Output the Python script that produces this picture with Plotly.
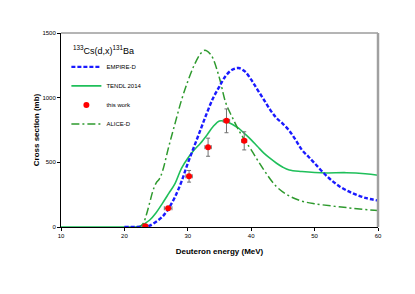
import plotly.graph_objects as go

# EMPIRE-D
emp_x = [20, 22, 23, 23.5, 24, 25, 26, 27, 28, 29, 30, 31, 32, 33, 34, 35, 36, 37, 38, 39, 40, 41, 42, 43, 44, 45, 46, 47, 48, 49, 50, 52, 54, 56, 58, 60]
emp_y = [0, 0, 0, 2, 10, 41, 80, 145, 235, 351, 493, 622, 751, 880, 997, 1087, 1170, 1216, 1229, 1203, 1139, 1061, 984, 906, 842, 798, 745, 674, 596, 545, 493, 390, 312, 261, 225, 205]

# TENDL 2014
ten_x = [10, 20, 21.5, 22.5, 23, 24, 25, 26, 27, 28, 29, 30, 31, 32, 33, 34, 35, 36, 37, 38, 39, 40, 41, 42, 43, 44, 45, 46, 48, 50, 52, 55, 58, 60]
ten_y = [0, 0, 0, 5, 20, 54, 110, 183, 260, 338, 454, 532, 595, 648, 710, 777, 820, 816, 795, 764, 720, 674, 622, 571, 530, 493, 462, 441, 429, 421, 418, 420, 412, 400]

# ALICE-D
ali_x = [22, 22.5, 23, 23.5, 24, 24.5, 25, 25.5, 26, 27, 28, 29, 30, 31, 32, 32.7, 33.5, 34, 35, 36, 37, 38, 39, 40, 42, 44, 46, 48, 50, 55, 60]
ali_y = [0, 5, 30, 100, 190, 280, 340, 370, 430, 622, 803, 980, 1126, 1250, 1340, 1366, 1340, 1300, 1150, 958, 850, 751, 670, 596, 441, 312, 240, 200, 180, 150, 127]

# This work
exp_x = [23.3, 26.9, 30.2, 33.2, 36.1, 38.9]
exp_y = [5, 145, 392, 617, 821, 666]
exp_dy = [5, 12, 45, 70, 92, 70]
exp_dx = [0.4, 0.6, 0.5, 0.5, 0.5, 0.4]

fig = go.Figure()
fig.add_trace(go.Scatter(x=ten_x, y=ten_y, mode="lines", name="TENDL 2014",
                         line=dict(color="#1fbf5a", width=1.6, shape="spline"),
                         legendrank=2))
fig.add_trace(go.Scatter(x=ali_x, y=ali_y, mode="lines", name="ALICE-D",
                         line=dict(color="#2e9a2e", width=1.5, dash="8px,3px,2px,3px", shape="spline"),
                         legendrank=4))
fig.add_trace(go.Scatter(x=emp_x, y=emp_y, mode="lines", name="EMPIRE-D",
                         line=dict(color="#1a1aff", width=2.4, dash="4px,2px", shape="spline"),
                         legendrank=1))
fig.add_trace(go.Scatter(x=exp_x, y=exp_y, mode="markers", name="this work",
                         marker=dict(color="#ff0000", size=6),
                         error_y=dict(type="data", array=exp_dy, color="#707070", thickness=1, width=2),
                         error_x=dict(type="data", array=exp_dx, color="#707070", thickness=1, width=2),
                         legendrank=3))

axis_font = dict(family="Liberation Sans, Arial", size=6, color="#000")
fig.update_layout(
    width=415, height=294,
    margin=dict(l=53, r=45, t=25, b=75, autoexpand=False),
    paper_bgcolor="white", plot_bgcolor="white",
    showlegend=True,
    legend=dict(x=0.017, y=0.90, xanchor="left", yanchor="top",
                font=dict(family="Liberation Sans, Arial", size=6, color="#000"),
                bgcolor="rgba(0,0,0,0)", tracegroupgap=0, itemwidth=30),
    xaxis=dict(range=[10, 60], tickvals=[10, 20, 30, 40, 50, 60], showgrid=False, automargin=False,
               zeroline=False, showline=True, linecolor="#000", linewidth=1,
               ticks="outside", ticklen=3, tickcolor="#000", tickfont=axis_font,
               title=dict(text="<b>Deuteron energy (MeV)</b>", font=dict(family="Liberation Sans, Arial", size=8, color="#000"), standoff=10)),
    yaxis=dict(range=[0, 1500], tickvals=[0, 500, 1000, 1500], showgrid=False, automargin=False,
               zeroline=False, showline=True, linecolor="#000", linewidth=1,
               ticks="outside", ticklen=3, tickcolor="#000", tickfont=axis_font,
               title=dict(text="<b>Cross section (mb)</b>", font=dict(family="Liberation Sans, Arial", size=8, color="#000"), standoff=1)),
    annotations=[dict(x=0.03, y=0.912, xref="paper", yref="paper", xanchor="left", yanchor="middle",
                      text="<sup>133</sup>Cs(d,x)<sup>131</sup>Ba", showarrow=False,
                      font=dict(family="Liberation Sans, Arial", size=9, color="#000"))],
    shapes=[
        dict(type="line", xref="paper", yref="paper", x0=0, x1=1, y0=1, y1=1, line=dict(color="#444", width=0.8)),
        dict(type="line", xref="paper", yref="paper", x0=1, x1=1, y0=0, y1=1, line=dict(color="#a0a0a0", width=2.5)),
    ],
)
fig.write_html("out.html")
